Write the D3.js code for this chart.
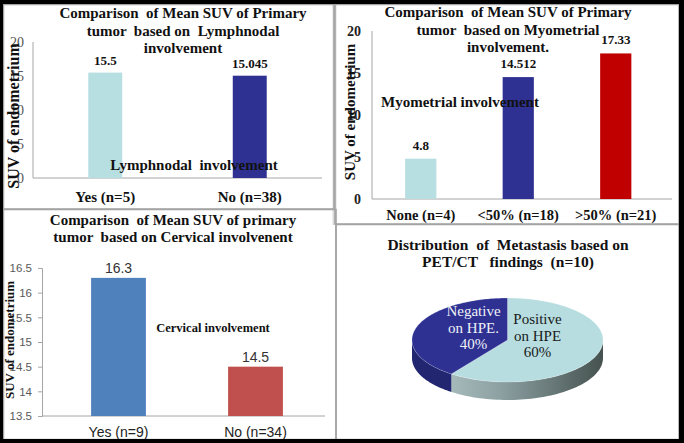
<!DOCTYPE html>
<html>
<head>
<meta charset="utf-8">
<script src="https://cdn.jsdelivr.net/npm/d3@7/dist/d3.min.js"></script>
<style>
  html, body { margin: 0; padding: 0; background: #fff; }
  svg { display: block; }
</style>
</head>
<body>
<svg id="chart" width="684" height="443"></svg>
<script>
// ---------------- DATA ----------------
const p1Title = ["Comparison  of Mean SUV of Primary", "tumor  based on  Lymphnodal", "involvement"];
const p1Categories = ["Yes (n=5)", "No (n=38)"];
const p1Values = [15.5, 15.045];
const p1ValueLabels = ["15.5", "15.045"];
const p1Ticks = [0, 5, 10, 15, 20];
const p1Legend = "Lymphnodal  involvement";

const p2Title = ["Comparison  of Mean SUV of Primary", "tumor  based on Myometrial", "involvement."];
const p2Categories = ["None (n=4)", "<50% (n=18)", ">50% (n=21)"];
const p2Values = [4.8, 14.512, 17.33];
const p2ValueLabels = ["4.8", "14.512", "17.33"];
const p2Ticks = [0, 5, 10, 15, 20];
const p2Legend = "Myometrial involvement";

const p3Title = ["Comparison  of Mean SUV of primary", "tumor  based on Cervical involvenent"];
const p3Categories = ["Yes (n=9)", "No (n=34)"];
const p3Values = [16.3, 14.5];
const p3ValueLabels = ["16.3", "14.5"];
const p3Ticks = [13.5, 14, 14.5, 15, 15.5, 16, 16.5];
const p3Legend = "Cervical involvement";

const p4Title = ["Distribution  of  Metastasis based on", "PET/CT   findings  (n=10)"];
const pieNames = ["Positive on HPE", "Negative on HPE."];
const pieValues = [60, 40];
const pieLabelLines = [["Positive", "on HPE", "60%"], ["Negative", "on HPE.", "40%"]];

const yTitle = "SUV of endometrium";

// ---------------- STYLE ----------------
const SERIF = "'Liberation Serif','Times New Roman',serif";
const SANS = "'Liberation Sans Narrow','Liberation Sans',Arial,sans-serif";
const p1Colors = ["#b7dee1", "#2e3192"];
const p2Colors = ["#b7dee1", "#2e3192", "#c00000"];
const p3Colors = ["#4f81bd", "#c0504d"];
const pieTopColors = ["#b7dde0", "#2e3192"];

const svg = d3.select("#chart");
svg.append("rect").attr("width", 684).attr("height", 443).attr("fill", "#fff");

// panel frames
const frames = [
  [3.5, 4.5, 330.5, 204.5],
  [335, 4.5, 344, 219.5],
  [3.5, 209.5, 332.5, 230],
  [336, 224.5, 343, 215]
];
svg.append("rect").attr("x", 332.5).attr("y", 4).attr("width", 4).attr("height", 221).attr("fill", "#dcdcdc");
frames.forEach(f => {
  svg.append("rect").attr("x", f[0]).attr("y", f[1]).attr("width", f[2]).attr("height", f[3])
    .attr("fill", "none").attr("stroke", "#a3a3a3").attr("stroke-width", 1.5);
});

function titleLines(lines, cx, y0, dy, size) {
  const t = svg.append("text").attr("text-anchor", "middle")
    .attr("font-family", SERIF).attr("font-weight", "bold").attr("font-size", size)
    .attr("fill", "#111").style("white-space", "pre");
  lines.forEach((l, i) => t.append("tspan").attr("x", cx).attr("y", y0 + i * dy).text(l));
}

function yTitleText(x, cy, size) {
  svg.append("text").attr("transform", `translate(${x},${cy}) rotate(-90)`)
    .attr("text-anchor", "middle").attr("font-family", SERIF).attr("font-weight", "bold")
    .attr("font-size", size).attr("fill", "#111").text(yTitle);
}

// ---------------- PANEL 1 ----------------
(function () {
  const x = d3.scaleBand().domain(p1Categories).range([33, 322]).padding(0);
  const y = d3.scaleLinear().domain([0, 20]).range([178, 42]);
  const bw = x.bandwidth() * 0.235;
  const g = svg.append("g");
  const ax = g.append("g").attr("transform", "translate(24,0)")
    .call(d3.axisLeft(y).tickValues(p1Ticks).tickSize(0).tickFormat(d => d));
  ax.select(".domain").remove();
  ax.selectAll("text").attr("font-family", SERIF).attr("font-size", 14).attr("fill", "#555").attr("x", 0);
  g.append("line").attr("x1", 33).attr("x2", 33).attr("y1", y(20)).attr("y2", y(0)).attr("stroke", "#a6a6a6");
  g.append("line").attr("x1", 33).attr("x2", 322).attr("y1", y(0)).attr("y2", y(0)).attr("stroke", "#a6a6a6");
  g.selectAll("rect.bar").data(p1Values).join("rect").attr("class", "bar")
    .attr("x", (d, i) => x(p1Categories[i]) + x.bandwidth() / 2 - bw / 2)
    .attr("width", bw).attr("y", d => y(d)).attr("height", d => y(0) - y(d))
    .attr("fill", (d, i) => p1Colors[i]);
  g.selectAll("text.val").data(p1Values).join("text").attr("class", "val")
    .attr("x", (d, i) => x(p1Categories[i]) + x.bandwidth() / 2).attr("y", d => y(d) - 8)
    .attr("text-anchor", "middle").attr("font-family", SERIF).attr("font-weight", "bold")
    .attr("font-size", 13).attr("fill", "#111").text((d, i) => p1ValueLabels[i]);
  g.selectAll("text.cat").data(p1Categories).join("text").attr("class", "cat")
    .attr("x", d => x(d) + x.bandwidth() / 2).attr("y", 202)
    .attr("text-anchor", "middle").attr("font-family", SERIF).attr("font-weight", "bold")
    .attr("font-size", 15).attr("fill", "#111").text(d => d);
  svg.append("text").attr("x", 194).attr("y", 170).attr("text-anchor", "middle")
    .attr("font-family", SERIF).attr("font-weight", "bold").attr("font-size", 15)
    .attr("fill", "#111").style("white-space", "pre").text(p1Legend);
  yTitleText(19, 116, 16);
  titleLines(p1Title, 183, 18, 17.5, 15);
})();

// ---------------- PANEL 2 ----------------
(function () {
  const x = d3.scaleBand().domain(p2Categories).range([372, 664.5]).padding(0);
  const y = d3.scaleLinear().domain([0, 20]).range([199, 31]);
  const bw = x.bandwidth() * 0.32;
  const g = svg.append("g");
  const ax = g.append("g").attr("transform", "translate(361,0)")
    .call(d3.axisLeft(y).tickValues(p2Ticks).tickSize(0).tickFormat(d => d));
  ax.select(".domain").remove();
  ax.selectAll("text").attr("font-family", SERIF).attr("font-weight", "bold").attr("font-size", 14).attr("fill", "#222").attr("x", 0);
  g.append("line").attr("x1", 372).attr("x2", 372).attr("y1", y(20)).attr("y2", y(0)).attr("stroke", "#a6a6a6");
  g.append("line").attr("x1", 372).attr("x2", 672).attr("y1", y(0)).attr("y2", y(0)).attr("stroke", "#a6a6a6");
  g.selectAll("rect.bar").data(p2Values).join("rect").attr("class", "bar")
    .attr("x", (d, i) => x(p2Categories[i]) + x.bandwidth() / 2 - bw / 2)
    .attr("width", bw).attr("y", d => y(d)).attr("height", d => y(0) - y(d))
    .attr("fill", (d, i) => p2Colors[i]);
  g.selectAll("text.val").data(p2Values).join("text").attr("class", "val")
    .attr("x", (d, i) => x(p2Categories[i]) + x.bandwidth() / 2).attr("y", d => y(d) - 9)
    .attr("text-anchor", "middle").attr("font-family", SERIF).attr("font-weight", "bold")
    .attr("font-size", 13).attr("fill", "#111").text((d, i) => p2ValueLabels[i]);
  g.selectAll("text.cat").data(p2Categories).join("text").attr("class", "cat")
    .attr("x", d => x(d) + x.bandwidth() / 2).attr("y", 220)
    .attr("text-anchor", "middle").attr("font-family", SERIF).attr("font-weight", "bold")
    .attr("font-size", 14.5).attr("fill", "#111").text(d => d);
  svg.append("text").attr("x", 460).attr("y", 107).attr("text-anchor", "middle")
    .attr("font-family", SERIF).attr("font-weight", "bold").attr("font-size", 15)
    .attr("fill", "#111").text(p2Legend);
  yTitleText(355, 112, 15);
  titleLines(p2Title, 508, 17, 17.5, 15);
})();

// ---------------- PANEL 3 ----------------
(function () {
  const x = d3.scaleBand().domain(p3Categories).range([50, 324]).padding(0);
  const y = d3.scaleLinear().domain([13.5, 16.5]).range([416, 268]);
  const bw = x.bandwidth() * 0.4;
  const g = svg.append("g");
  const ax = g.append("g").attr("transform", "translate(42,0)")
    .call(d3.axisLeft(y).tickValues(p3Ticks).tickSize(4).tickPadding(6).tickFormat(d => String(d)));
  ax.select(".domain").attr("stroke", "#a6a6a6");
  ax.selectAll(".tick line").attr("stroke", "#a6a6a6");
  ax.selectAll("text").attr("font-family", SANS).attr("font-size", 11.5).attr("fill", "#595959");
  g.append("line").attr("x1", 42).attr("x2", 325).attr("y1", y(13.5)).attr("y2", y(13.5)).attr("stroke", "#a6a6a6");
  g.selectAll("rect.bar").data(p3Values).join("rect").attr("class", "bar")
    .attr("x", (d, i) => x(p3Categories[i]) + x.bandwidth() / 2 - bw / 2)
    .attr("width", bw).attr("y", d => y(d)).attr("height", d => y(13.5) - y(d))
    .attr("fill", (d, i) => p3Colors[i]);
  g.selectAll("text.val").data(p3Values).join("text").attr("class", "val")
    .attr("x", (d, i) => x(p3Categories[i]) + x.bandwidth() / 2).attr("y", d => y(d) - 5)
    .attr("text-anchor", "middle").attr("font-family", SANS)
    .attr("font-size", 14).attr("fill", "#333").text((d, i) => p3ValueLabels[i]);
  g.selectAll("text.cat").data(p3Categories).join("text").attr("class", "cat")
    .attr("x", d => x(d) + x.bandwidth() / 2).attr("y", 437)
    .attr("text-anchor", "middle").attr("font-family", SANS)
    .attr("font-size", 14).attr("fill", "#222").text(d => d);
  svg.append("text").attr("x", 213).attr("y", 332).attr("text-anchor", "middle")
    .attr("font-family", SERIF).attr("font-weight", "bold").attr("font-size", 12.5)
    .attr("fill", "#111").text(p3Legend);
  yTitleText(14, 340, 13);
  titleLines(p3Title, 173, 225, 17, 15);
})();

// ---------------- PANEL 4 (3D pie) ----------------
(function () {
  const cx = 507.5, cy = 340, rx = 95.5, ry = 42, depth = 18;
  const pie = d3.pie().sort(null).value(d => d);
  const arcs = pie(pieValues);
  const pt = (t, dy) => [cx + rx * Math.sin(t), cy - ry * Math.cos(t) + (dy || 0)];

  const defs = svg.append("defs");
  const grad = defs.append("linearGradient").attr("id", "sideGrad")
    .attr("gradientUnits", "userSpaceOnUse")
    .attr("x1", cx - rx).attr("x2", cx + rx).attr("y1", 0).attr("y2", 0);
  grad.append("stop").attr("offset", "0").attr("stop-color", "#b9cdcf");
  grad.append("stop").attr("offset", "0.45").attr("stop-color", "#8ea2a4");
  grad.append("stop").attr("offset", "1").attr("stop-color", "#45524f");
  const sideFill = ["url(#sideGrad)", "#22256f"];

  const g = svg.append("g");
  arcs.forEach((a, i) => {
    const s = Math.max(a.startAngle, Math.PI / 2), e = Math.min(a.endAngle, 3 * Math.PI / 2);
    if (e <= s) return;
    const n = 60, p = d3.path();
    for (let k = 0; k <= n; k++) {
      const [px, py] = pt(s + (e - s) * k / n);
      k === 0 ? p.moveTo(px, py) : p.lineTo(px, py);
    }
    for (let k = n; k >= 0; k--) {
      const [px, py] = pt(s + (e - s) * k / n, depth);
      p.lineTo(px, py);
    }
    p.closePath();
    g.append("path").attr("d", p.toString()).attr("fill", sideFill[i]);
  });
  arcs.forEach((a, i) => {
    const n = 120, p = d3.path();
    p.moveTo(cx, cy);
    for (let k = 0; k <= n; k++) {
      const [px, py] = pt(a.startAngle + (a.endAngle - a.startAngle) * k / n);
      p.lineTo(px, py);
    }
    p.closePath();
    g.append("path").attr("d", p.toString()).attr("fill", pieTopColors[i])
      .attr("stroke", "#ffffff").attr("stroke-opacity", 0.35).attr("stroke-width", 0.6);
  });
  const labelOffsets = [[30, -21], [-34, -29]];
  const labelColors = ["#1a1a1a", "#eef0f8"];
  arcs.forEach((a, i) => {
    const t = g.append("text").attr("text-anchor", "middle").attr("font-family", SERIF)
      .attr("font-size", 15).attr("fill", labelColors[i]);
    pieLabelLines[i].forEach((l, k) => t.append("tspan")
      .attr("x", cx + labelOffsets[i][0]).attr("y", cy + labelOffsets[i][1] + 5 + k * 16.5).text(l));
  });
  titleLines(p4Title, 508, 250, 17, 15.5);
})();

// outer black frame
svg.append("rect").attr("x", 0).attr("y", 0).attr("width", 684).attr("height", 4).attr("fill", "#000");
svg.append("rect").attr("x", 0).attr("y", 0).attr("width", 3).attr("height", 443).attr("fill", "#000");
svg.append("rect").attr("x", 679).attr("y", 0).attr("width", 5).attr("height", 443).attr("fill", "#000");
svg.append("rect").attr("x", 0).attr("y", 439).attr("width", 684).attr("height", 4).attr("fill", "#000");
</script>
</body>
</html>
